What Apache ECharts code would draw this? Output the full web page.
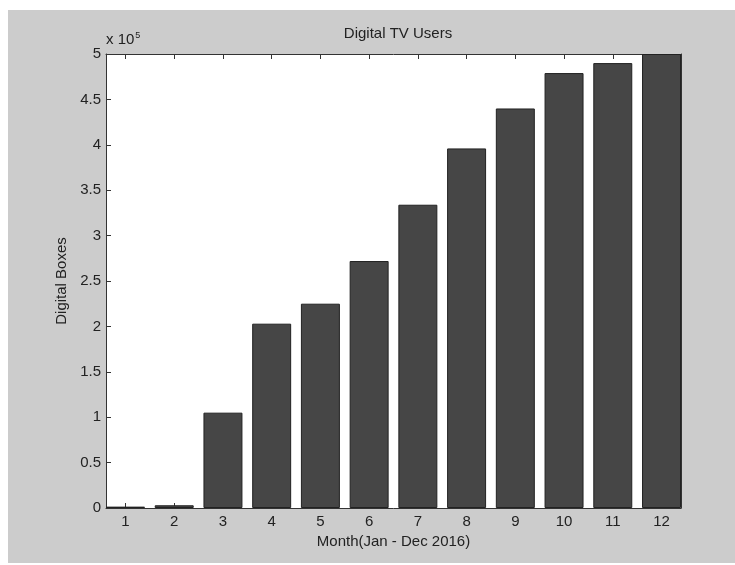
<!DOCTYPE html>
<html>
<head>
<meta charset="utf-8">
<script src="https://cdn.jsdelivr.net/npm/echarts@6/dist/echarts.min.js"></script>
<style>
  html, body { margin: 0; padding: 0; background: #fff; }
  #chart { width: 735px; height: 565px; }
</style>
</head>
<body>
<div id="chart"></div>
<script>
// monthly digital box counts
const months = [1, 2, 3, 4, 5, 6, 7, 8, 9, 10, 11, 12]
const digitalBoxes = [1500, 3000, 105000, 203000, 225000, 272000, 334000, 396000, 440000, 479000, 490000, 500000]
const yMax = 500000
const yStep = 50000

const chart = echarts.init(document.getElementById('chart'))
const font = '"Liberation Sans", Arial, sans-serif'
const axisColor = '#333'
const textColor = '#222'

const option = {
  backgroundColor: '#fff',
  animation: false,
  textStyle: { fontFamily: font },
  title: {
    text: 'Digital TV Users',
    left: 393,
    top: 21,
    textAlign: 'center',
    textStyle: { fontSize: 15, fontWeight: 'normal', color: textColor, fontFamily: font },
  },
  graphic: [
    {
      type: 'rect',
      z: -10,
      shape: { x: 8, y: 10, width: 727, height: 553 },
      style: { fill: '#cccccc' },
    },
    {
      type: 'text',
      left: 106,
      top: 31,
      style: {
        text: 'x 10{s|5}',
        fill: textColor,
        font: '15px ' + font,
        rich: { s: { fontSize: 9, verticalAlign: 'top', padding: [0, 0, 9, 1], fill: textColor } },
      },
    },
  ],
  grid: {
    left: 106,
    top: 54,
    right: 54,
    bottom: 57,
    show: true,
    backgroundColor: '#fff',
    borderWidth: 0,
  },
  xAxis: [
    {
      type: 'value',
      min: 0.6,
      max: 12.4,
      name: 'Month(Jan - Dec 2016)',
      nameLocation: 'middle',
      nameGap: 25,
      nameTextStyle: { color: textColor, fontSize: 15, fontFamily: font },
      splitLine: { show: false },
      axisLine: { show: true, onZero: false, lineStyle: { color: axisColor, width: 1 } },
      axisTick: { show: true, inside: true, length: 5, customValues: months, lineStyle: { color: axisColor } },
      axisLabel: { show: true, customValues: months, color: textColor, fontSize: 15, margin: 6 },
    },
    {
      type: 'value',
      position: 'top',
      min: 0.6,
      max: 12.4,
      splitLine: { show: false },
      axisLine: { show: true, onZero: false, lineStyle: { color: axisColor, width: 1 } },
      axisTick: { show: true, inside: true, length: 5, customValues: months, lineStyle: { color: axisColor } },
      axisLabel: { show: false },
    },
  ],
  yAxis: [
    {
      type: 'value',
      min: 0,
      max: yMax,
      interval: yStep,
      name: 'Digital Boxes',
      nameLocation: 'middle',
      nameGap: 36,
      nameTextStyle: { color: textColor, fontSize: 15, fontFamily: font },
      splitLine: { show: false },
      axisLine: { show: true, onZero: false, lineStyle: { color: axisColor, width: 1 } },
      axisTick: { show: true, inside: true, length: 5, lineStyle: { color: axisColor } },
      axisLabel: { color: textColor, fontSize: 15, margin: 5, formatter: v => String(v / 100000) },
    },
    {
      type: 'value',
      position: 'right',
      min: 0,
      max: yMax,
      interval: yStep,
      splitLine: { show: false },
      axisLine: { show: true, onZero: false, lineStyle: { color: axisColor, width: 1 } },
      axisTick: { show: true, inside: true, length: 5, lineStyle: { color: axisColor } },
      axisLabel: { show: false },
    },
  ],
  series: [
    {
      type: 'bar',
      xAxisIndex: 0,
      yAxisIndex: 0,
      barWidth: '80%',
      itemStyle: { color: '#464646', borderColor: '#222', borderWidth: 1 },
      data: months.map((m, i) => [m, digitalBoxes[i]]),
    },
  ],
}
chart.setOption(option)
window.addEventListener('resize', () => chart.resize())
</script>
</body>
</html>
